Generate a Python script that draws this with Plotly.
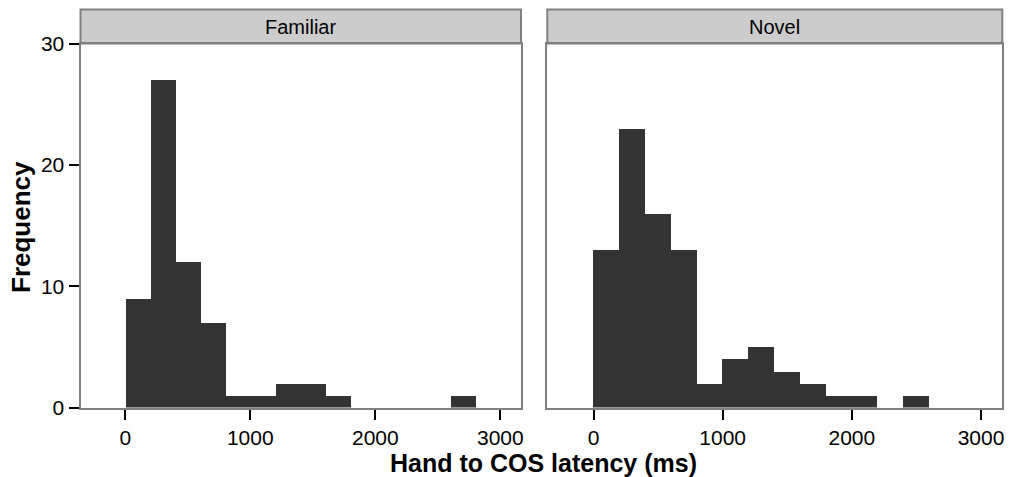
import plotly.graph_objects as go

bin_starts = [0, 200, 400, 600, 800, 1000, 1200, 1400, 1600, 1800, 2000, 2200, 2400, 2600, 2800]
bin_width = 200
familiar_counts = [9, 27, 12, 7, 1, 1, 2, 2, 1, 0, 0, 0, 0, 1, 0]
novel_counts = [13, 23, 16, 13, 2, 4, 5, 3, 2, 1, 1, 0, 1, 0, 0]
panels = ["Familiar", "Novel"]
x_ticks = [0, 1000, 2000, 3000]
y_ticks = [0, 10, 20, 30]

centers = [s + bin_width / 2 for s in bin_starts]

W, H = 1009, 477
left_dom = [80.5 / W, 521 / W]
right_dom = [547.3 / W, 1002.3 / W]
y_dom = [1 - 407.5 / H, 1 - 43.5 / H]
strip_top = 1 - 9.5 / H

BAR = "#333333"
BORDER = "#808080"
FONT = "Liberation Sans, Arial, Helvetica, sans-serif"

fig = go.Figure()
fig.add_trace(go.Bar(x=centers, y=familiar_counts, width=bin_width, marker=dict(color=BAR, line=dict(width=0)),
                     xaxis="x", yaxis="y", showlegend=False))
fig.add_trace(go.Bar(x=centers, y=novel_counts, width=bin_width, marker=dict(color=BAR, line=dict(width=0)),
                     xaxis="x2", yaxis="y2", showlegend=False))

xr = [-358, 3165]
common_x = dict(range=xr, tickvals=x_ticks, ticks="outside", ticklen=10, tickwidth=2, tickcolor="#000000",
                showline=True, linecolor=BORDER, linewidth=2, mirror=True, showgrid=False, zeroline=False,
                automargin=False, tickfont=dict(family=FONT, size=21, color="#000000"))
fig.update_layout(
    width=W, height=H, margin=dict(l=0, r=0, t=0, b=0),
    paper_bgcolor="white", plot_bgcolor="white", bargap=0,
    xaxis=dict(domain=left_dom, anchor="y", **common_x),
    xaxis2=dict(domain=right_dom, anchor="y2", **common_x),
    yaxis=dict(domain=y_dom, anchor="x", range=[0, 30], tickvals=y_ticks, ticks="outside", ticklen=10,
               tickwidth=2, tickcolor="#000000", showline=True, linecolor=BORDER, linewidth=2, mirror=True,
               showgrid=False, zeroline=False, automargin=False,
               tickfont=dict(family=FONT, size=21, color="#000000")),
    yaxis2=dict(domain=y_dom, anchor="x2", range=[0, 30], showticklabels=False, ticks="",
                showline=True, linecolor=BORDER, linewidth=2, mirror=True, showgrid=False, zeroline=False,
                automargin=False),
    font=dict(family=FONT, color="#000000"),
)

shapes = []
annotations = []
for dom, name in zip([left_dom, right_dom], panels):
    shapes.append(dict(type="rect", xref="paper", yref="paper", x0=dom[0], x1=dom[1], y0=y_dom[1], y1=strip_top,
                       fillcolor="#CCCCCC", line=dict(color=BORDER, width=2), layer="below"))
    annotations.append(dict(text=name, xref="paper", yref="paper", x=(dom[0] + dom[1]) / 2,
                            y=(y_dom[1] + strip_top) / 2, showarrow=False, xanchor="center", yanchor="middle",
                            font=dict(family=FONT, size=20, color="#000000")))

annotations.append(dict(text="<b>Hand to COS latency (ms)</b>", xref="paper", yref="paper", x=543 / W,
                        y=1 - 463 / H, showarrow=False, xanchor="center", yanchor="middle",
                        font=dict(family=FONT, size=25, color="#000000")))
annotations.append(dict(text="<b>Frequency</b>", xref="paper", yref="paper", x=21 / W, y=1 - 227 / H,
                        showarrow=False, textangle=-90, xanchor="center", yanchor="middle",
                        font=dict(family=FONT, size=26, color="#000000")))
fig.update_layout(shapes=shapes, annotations=annotations)

fig.write_html("out.html")
